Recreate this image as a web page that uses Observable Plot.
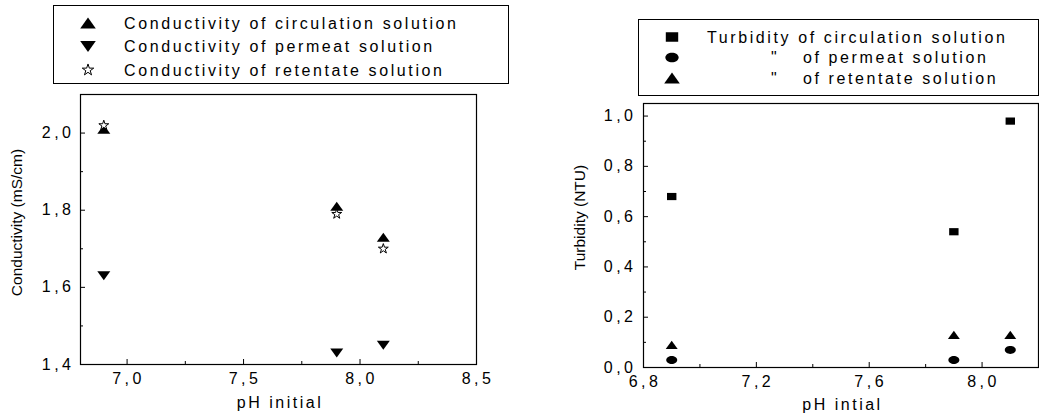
<!DOCTYPE html>
<html><head><meta charset="utf-8">
<script src="https://cdn.jsdelivr.net/npm/d3@7"></script>
<script src="https://cdn.jsdelivr.net/npm/@observablehq/plot@0.6"></script>
<style>
body{margin:0;background:#fff;}
#wrap{position:relative;width:1039px;height:417px;overflow:hidden;font-family:"Liberation Sans",Arial,sans-serif;}
#wrap > svg{position:absolute;}
#wrap svg text{letter-spacing:3.5px;}
#wrap svg.legend text{letter-spacing:2.6px;}
</style></head><body><div id="wrap"></div>
<script>
// ---- data ----
const phInitial = [6.9, 7.9, 8.1];
const condCirculation = [2.01, 1.81, 1.73];
const condPermeat = [1.63, 1.43, 1.45];
const condRetentate = [2.02, 1.79, 1.70];
const turbCirculation = [0.68, 0.54, 0.98];
const turbPermeat = [0.03, 0.03, 0.07];
const turbRetentate = [0.09, 0.13, 0.13];

const condLegend = ["Conductivity of circulation solution", "Conductivity of permeat solution", "Conductivity of retentate solution"];
const turbLegend = ["Turbidity of circulation solution", "of permeat solution", "of retentate solution"];
const turbLegendDitto = ["", "\"", "\""];

const condXTicks = [7.0, 7.5, 8.0, 8.5];
const condXMinor = [7.25, 7.75, 8.25];
const condYTicks = [1.4, 1.6, 1.8, 2.0];
const condYMinor = [1.5, 1.7, 1.9];
const turbXTicks = [6.8, 7.2, 7.6, 8.0];
const turbXMinor = [7.0, 7.4, 7.8];
const turbYTicks = [0.0, 0.2, 0.4, 0.6, 0.8, 1.0];
const turbYMinor = [0.1, 0.3, 0.5, 0.7, 0.9];

const condXLabel = "pH initial";
const condYLabel = "Conductivity (mS/cm)";
const turbXLabel = "pH intial";
const turbYLabel = "Turbidity (NTU)";

// ---- symbols (u = 1 when r = 5) ----
const U = size => Math.sqrt(size / Math.PI) / 5;
const triUp = {draw(c, s){const u=U(s); c.moveTo(0,-4.5*u); c.lineTo(6.5*u,4.5*u); c.lineTo(-6.5*u,4.5*u); c.closePath();}};
const triDown = {draw(c, s){const u=U(s); c.moveTo(0,4.5*u); c.lineTo(6.5*u,-4.5*u); c.lineTo(-6.5*u,-4.5*u); c.closePath();}};
const rectSym = {draw(c, s){const u=U(s); c.rect(-4.7*u,-3.6*u,9.4*u,7.2*u);}};
const ellipseSym = {draw(c, s){const u=U(s); const n=32; for(let i=0;i<n;i++){const a=2*Math.PI*i/n; const x=5.5*u*Math.cos(a), y=4*u*Math.sin(a); i?c.lineTo(x,y):c.moveTo(x,y);} c.closePath();}};
const starSym = {draw(c, s){const u=U(s); const R=5.2*u, r=R*0.382; for(let i=0;i<10;i++){const a=-Math.PI/2+i*Math.PI/5; const rr=i%2?r:R; const x=rr*Math.cos(a), y=rr*Math.sin(a); i?c.lineTo(x,y):c.moveTo(x,y);} c.closePath();}};

const fmt = d => d3.format(".1f")(d).replace(".", ",");
const font = "Liberation Sans, Arial, sans-serif";
const rows = ys => phInitial.map((x, i) => ({x, y: ys[i]}));

function panel(o) {
  const ih = o.height - o.mt - o.mb, iw = o.width - o.ml - o.mr;
  const svg = Plot.plot({
    width: o.width, height: o.height,
    marginTop: o.mt, marginBottom: o.mb, marginLeft: o.ml, marginRight: o.mr,
    x: {domain: o.xDomain}, y: {domain: o.yDomain},
    style: {fontFamily: font, background: "transparent", color: "black"},
    marks: [
      Plot.axisX(o.xTicks, {tickSize: 0, tickPadding: 8, tickFormat: fmt, fontSize: 16, label: null, dx: 1.5}),
      Plot.axisY(o.yTicks, {tickSize: 0, tickPadding: o.yPad, tickFormat: fmt, fontSize: 16, label: null}),
      Plot.tickX(o.xTicks, {x: d => d, insetTop: ih - 5, stroke: "black"}),
      Plot.tickX(o.xMinor, {x: d => d, insetTop: ih - 3, stroke: "black"}),
      Plot.tickY(o.yTicks, {y: d => d, insetRight: iw - 5, stroke: "black"}),
      Plot.tickY(o.yMinor, {y: d => d, insetRight: iw - 3, stroke: "black"}),
      Plot.frame({stroke: "black", strokeWidth: 1.2}),
      ...o.series,
      Plot.text([o.xLabel], {text: d => d, frameAnchor: "bottom", textAnchor: "middle", dy: o.xlDy, dx: 1.5, lineAnchor: "middle", fontSize: 16}),
      Plot.text([o.yLabel], {text: d => d, frameAnchor: "left", textAnchor: "middle", rotate: -90, dx: o.ylDx, dy: o.ylDy, lineAnchor: "middle", fontSize: 15})
    ]
  });
  d3.select(svg).selectAll("text").each(function() {
    const t = this.textContent;
    if (t === o.xLabel) { this.style.letterSpacing = "2.5px"; this.style.fontSize = "16px"; }
    if (t === o.yLabel) { this.style.letterSpacing = "0px"; this.style.fontSize = "15.5px"; }
  });
  svg.style.left = o.left + "px";
  svg.style.top = "0px";
  svg.style.position = "absolute";
  return svg;
}

const wrap = document.getElementById("wrap");

wrap.appendChild(panel({
  left: 0, width: 520, height: 417, mt: 94, mb: 53, ml: 80, mr: 44,
  xDomain: [6.8, 8.5], yDomain: [1.4, 2.1],
  xTicks: condXTicks, xMinor: condXMinor, yTicks: condYTicks, yMinor: condYMinor, yPad: 6,
  xLabel: condXLabel, yLabel: condYLabel, xlDy: 38, ylDx: -63, ylDy: -7,
  series: [
    Plot.dot(rows(condCirculation), {x: "x", y: "y", symbol: triUp, r: 5, fill: "black", stroke: "none"}),
    Plot.dot(rows(condPermeat), {x: "x", y: "y", symbol: triDown, r: 5, fill: "black", stroke: "none"}),
    Plot.dot(rows(condRetentate), {x: "x", y: "y", symbol: starSym, r: 5, fill: "white", stroke: "black", strokeWidth: 1})
  ]
}));

wrap.appendChild(panel({
  left: 520, width: 519, height: 417, mt: 103, mb: 50, ml: 123, mr: 1,
  xDomain: [6.8, 8.2], yDomain: [0, 1.05],
  xTicks: turbXTicks, xMinor: turbXMinor, yTicks: turbYTicks, yMinor: turbYMinor, yPad: 7,
  xLabel: turbXLabel, yLabel: turbYLabel, xlDy: 37, ylDx: -63, ylDy: -18,
  series: [
    Plot.dot(rows(turbCirculation), {x: "x", y: "y", symbol: rectSym, r: 5, fill: "black", stroke: "none"}),
    Plot.dot(rows(turbPermeat), {x: "x", y: "y", symbol: ellipseSym, r: 5, fill: "black", stroke: "none"}),
    Plot.dot(rows(turbRetentate), {x: "x", y: "y", symbol: triUp, r: 4.6, fill: "black", stroke: "none"})
  ]
}));

// ---- legends ----
function legend({left, top, width, height, items}) {
  const svg = d3.create("svg").attr("class", "legend").attr("width", width).attr("height", height)
    .style("left", left + "px").style("top", top + "px").style("position", "absolute")
    .style("font-family", font).style("font-size", "16px");
  svg.append("rect").attr("x", 0.5).attr("y", 0.5).attr("width", width - 1).attr("height", height - 1)
    .attr("fill", "white").attr("stroke", "black");
  for (const it of items) {
    const p = d3.path();
    it.symbol.draw(p, Math.PI * it.r * it.r);
    svg.append("path").attr("d", p.toString()).attr("transform", `translate(${it.sx},${it.y})`)
      .attr("fill", it.fill).attr("stroke", it.stroke || "none");
    for (const t of it.texts) {
      svg.append("text").attr("x", t.x).attr("y", it.y).attr("dy", "0.35em").text(t.text);
    }
  }
  return svg.node();
}

const condSyms = [[triUp, "black", null, 6], [triDown, "black", null, 6], [starSym, "white", "black", 5.8]];
wrap.appendChild(legend({
  left: 53, top: 5, width: 456, height: 79,
  items: condLegend.map((t, i) => ({symbol: condSyms[i][0], fill: condSyms[i][1], stroke: condSyms[i][2], r: condSyms[i][3],
    sx: 35, y: 18 + i * 23.5, texts: [{x: 71, text: t}]}))
}));

const turbSyms = [[rectSym, 6.6], [ellipseSym, 6], [triUp, 6]];
wrap.appendChild(legend({
  left: 638, top: 19, width: 401, height: 77,
  items: turbLegend.map((t, i) => ({symbol: turbSyms[i][0], fill: "black", r: turbSyms[i][1],
    sx: 34, y: 18 + i * 20.5,
    texts: i === 0 ? [{x: 69, text: t}] : [{x: 133, text: turbLegendDitto[i]}, {x: 165, text: t}]}))
}));
</script></body></html>
